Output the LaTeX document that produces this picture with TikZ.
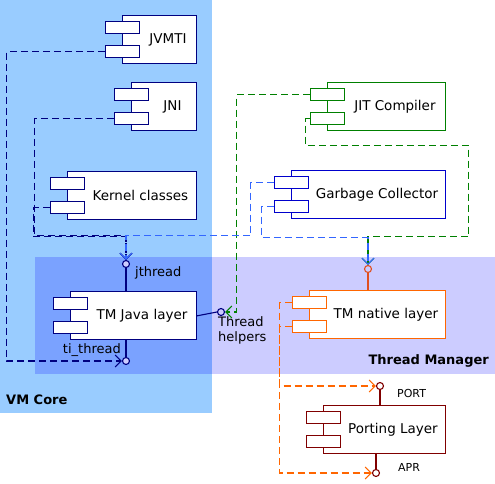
\documentclass[tikz,border=0pt]{standalone}
\usepackage{fontspec}
\setmainfont{DejaVu Sans}
\usepackage{xcolor}
\usepackage{tikz}
\usetikzlibrary{arrows.meta, positioning}
\definecolor{vmbg}{RGB}{153,204,255}
\definecolor{tmbg}{RGB}{204,204,255}
\definecolor{bothbg}{RGB}{122,162,255}
\definecolor{vmnavy}{RGB}{0,0,128}
\definecolor{gcblue}{RGB}{0,0,204}
\definecolor{deplue}{RGB}{51,102,255}
\definecolor{jitgreen}{RGB}{0,128,0}
\definecolor{tmorange}{RGB}{255,102,0}
\definecolor{ifred}{RGB}{224,80,32}
\definecolor{portred}{RGB}{128,0,0}
\tikzstyle{component} = [rectangle, minimum height=48pt, inner sep=0pt, line width=1.1pt, fill=white, execute at begin node=\hspace*{17pt}]
\tikzstyle{port} = [rectangle, minimum width=34pt, minimum height=12pt, inner sep=0pt, line width=1.1pt, fill=white]
\tikzstyle{iface} = [circle, minimum size=7pt, inner sep=0pt, line width=1.1pt]
\tikzstyle{lolly} = [line width=1.1pt]
\tikzstyle{dep} = [line width=1.1pt, dash pattern=on 7pt off 4pt, -{Straight Barb[length=6pt, width=12pt]}]

\begin{document}
\begin{tikzpicture}[x=1pt, y=-1pt, font=\fontsize{13.5}{15}\selectfont]
            \useasboundingbox (0,0) rectangle (495,484);
            % areas
            \fill[vmbg] (0,0) rectangle (212,413);
            \fill[tmbg] (35,257) rectangle (495,374);
            \fill[bothbg] (35,257) rectangle (212,374);
            \node[font=\fontsize{13}{15}\selectfont\bfseries, inner sep=0pt, anchor=base west] (vmcore) at (6,404) {VM Core};
            \node[font=\fontsize{13}{15}\selectfont\bfseries, inner sep=0pt, anchor=base east] (tmlabel) at (489,364) {Thread Manager};

            % components
            \node[component, draw=vmnavy, minimum width=74pt, anchor=north east] (jvmti) at (197,15) {JVMTI};
            \node[component, draw=vmnavy, minimum width=65pt, below=18pt of jvmti.south east, anchor=north east] (jni) {JNI};
            \node[component, draw=vmnavy, minimum width=129pt, below=40pt of jni.south east, anchor=north east] (kernel) {Kernel classes};
            \node[component, draw=vmnavy, minimum width=126pt, below=71pt of kernel.south east, anchor=north east] (tmjava) {TM Java layer};
            \node[component, draw=jitgreen, minimum width=118pt, anchor=north east] (jit) at (446,82) {JIT Compiler};
            \node[component, draw=gcblue, minimum width=154pt, below=39pt of jit.south east, anchor=north east] (gc) {Garbage Collector};
            \node[component, draw=tmorange, minimum width=136pt, below=71pt of gc.south east, anchor=north east] (native) {TM native layer};
            \node[component, draw=portred, minimum width=122pt, below=66pt of native.south east, anchor=north east] (porting) {Porting Layer};

            % component ports
            \node[port, draw=vmnavy, below right=6pt and -17pt of jvmti.north west] (jvmti-a) {};
            \node[port, draw=vmnavy, below right=30pt and -17pt of jvmti.north west] (jvmti-b) {};
            \node[port, draw=vmnavy, below right=6pt and -17pt of jni.north west] (jni-a) {};
            \node[port, draw=vmnavy, below right=30pt and -17pt of jni.north west] (jni-b) {};
            \node[port, draw=vmnavy, below right=6pt and -17pt of kernel.north west] (kernel-a) {};
            \node[port, draw=vmnavy, below right=30pt and -17pt of kernel.north west] (kernel-b) {};
            \node[port, draw=vmnavy, below right=6pt and -17pt of tmjava.north west] (tmjava-a) {};
            \node[port, draw=vmnavy, below right=30pt and -17pt of tmjava.north west] (tmjava-b) {};
            \node[port, draw=jitgreen, below right=6pt and -17pt of jit.north west] (jit-a) {};
            \node[port, draw=jitgreen, below right=30pt and -17pt of jit.north west] (jit-b) {};
            \node[port, draw=gcblue, below right=6pt and -17pt of gc.north west] (gc-a) {};
            \node[port, draw=gcblue, below right=30pt and -17pt of gc.north west] (gc-b) {};
            \node[port, draw=tmorange, below right=6pt and -17pt of native.north west] (native-a) {};
            \node[port, draw=tmorange, below right=30pt and -17pt of native.north west] (native-b) {};
            \node[port, draw=portred, below right=6pt and -17pt of porting.north west] (porting-a) {};
            \node[port, draw=portred, below right=30pt and -17pt of porting.north west] (porting-b) {};

            % interfaces
            \node[iface, draw=vmnavy, fill=tmbg] (jthread) at (126,264) {};
            \node[iface, draw=vmnavy, fill=tmbg] (tithread) at (126,361) {};
            \node[iface, draw=vmnavy, fill=tmbg] (helpers) at (221,312) {};
            \node[iface, draw=ifred, fill=tmbg] (nativeif) at (368,269) {};
            \node[iface, draw=portred, fill=white] (portif) at (380,386) {};
            \node[iface, draw=portred, fill=white] (aprif) at (376,473) {};
            \draw[lolly, vmnavy] (jthread.south) -- (jthread.south |- tmjava.north);
            \draw[lolly, vmnavy] (tithread.north) -- (tithread.north |- tmjava.south);
            \draw[lolly, vmnavy] (tmjava.east) -- (helpers.west);
            \draw[lolly, ifred] (nativeif.south) -- (nativeif.south |- native.north);
            \draw[lolly, portred] (portif.south) -- (portif.south |- porting.north);
            \draw[lolly, portred] (aprif.north) -- (aprif.north |- porting.south);
            \node[inner sep=0pt, anchor=base west, font=\fontsize{13}{15}\selectfont] (jthreadlabel) at (135,276) {jthread};
            \node[inner sep=0pt, anchor=base east, font=\fontsize{13}{15}\selectfont] (tithreadlabel) at (121,353) {ti\_thread};
            \node[inner sep=0pt, anchor=north west, align=left, font=\fontsize{13}{15}\selectfont] (helperslabel) at (218,316) {Thread\\helpers};
            \node[inner sep=0pt, anchor=base west, font=\fontsize{11}{12}\selectfont] (portlabel) at (397,397) {PORT};
            \node[inner sep=0pt, anchor=base west, font=\fontsize{11}{12}\selectfont] (aprlabel) at (398,471) {APR};

            % dependencies
            \draw[dep, vmnavy] (jvmti-b.west) -- ++(-98,0) |- (tithread.west);
            \draw[dep, vmnavy] (jni-b.west) -- ++(-79,0) -- ++(0,117) -| (jthread.north);
            \draw[dep, vmnavy] (kernel-b.west) -- ++(-16,0) -- ++(0,29) -| (jthread.north);
            \draw[dep, jitgreen] (jit-a.west) -- ++(-73,0) |- (helpers.east);
            \draw[dep, jitgreen] (jit-b.west) -- ++(-4,0) -- ++(0,27) -- ++(163,0) -- ++(0,91) -| (nativeif.north);
            \draw[dep, deplue] (gc-a.west) -- ++(-23,0) -- ++(0,53) -| (jthread.north);
            \draw[dep, deplue] (gc-b.west) -- ++(-12,0) -- ++(0,31) -| (nativeif.north);
            \draw[dep, tmorange] (native-a.west) -- ++(-12,0) |- (portif.west);
            \draw[dep, tmorange] (native-b.west) -- ++(-12,0) |- (aprif.west);
        \end{tikzpicture}
\end{document}
